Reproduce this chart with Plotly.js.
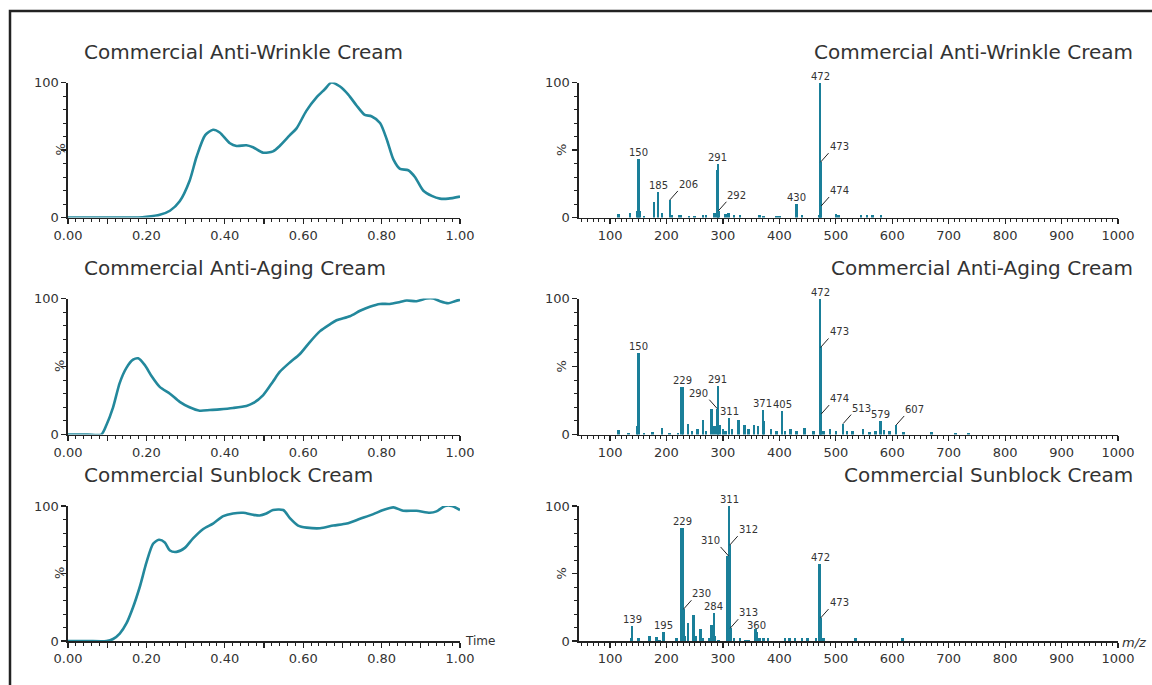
<!DOCTYPE html>
<html>
<head>
<meta charset="utf-8">
<script src="https://cdn.plot.ly/plotly-3.0.1.min.js"></script>
<style>html,body{margin:0;padding:0;background:#fff;}#chart{width:1152px;height:685px;}</style>
</head>
<body>
<div id="chart"></div>
<script>
// ---------- Titles ----------
const panelTitles = ['Commercial Anti-Wrinkle Cream', 'Commercial Anti-Aging Cream', 'Commercial Sunblock Cream'];

// ---------- Chromatograms (time, %) ----------
const wrinkleTime = [0.00,0.10,0.18,0.20,0.234,0.26,0.285,0.31,0.328,0.35,0.37,0.387,0.413,0.43,0.455,0.472,0.498,0.523,0.54,0.566,0.583,0.608,0.634,0.655,0.672,0.694,0.715,0.736,0.757,0.774,0.796,0.813,0.83,0.847,0.868,0.885,0.906,0.928,0.949,0.97,1.00];
const wrinkleInt  = [0,0,0,0.5,2,5,12,27,45,61,65,63,55,53,53.5,52,48,49,53,61,66,79,89,95,100,97,91,83,76,75,70,58,43,36,35,30,20,16,14,14,15.5];

const agingTime = [0.00,0.05,0.085,0.098,0.115,0.132,0.149,0.166,0.179,0.196,0.213,0.234,0.26,0.285,0.31,0.336,0.362,0.387,0.421,0.455,0.472,0.498,0.523,0.54,0.566,0.591,0.617,0.643,0.668,0.685,0.719,0.745,0.77,0.796,0.821,0.847,0.864,0.889,0.915,0.932,0.949,0.97,0.987,1.00];
const agingInt  = [0,0,0,7,20,38,49,55,56,51,43,35,30,24,20,17.5,18,18.5,19.5,21,23,29,39,46,53,59,68,76,81,84,87,91,94,96,96,97.5,98.5,98,100,100,98,96.5,98,99];

const sunTime = [0.00,0.05,0.098,0.115,0.132,0.149,0.166,0.183,0.20,0.217,0.232,0.247,0.26,0.277,0.298,0.319,0.345,0.37,0.396,0.421,0.447,0.472,0.489,0.506,0.523,0.549,0.566,0.587,0.609,0.643,0.677,0.711,0.745,0.779,0.804,0.83,0.855,0.889,0.923,0.94,0.962,0.979,1.00];
const sunInt  = [0,0,0,1.5,5.5,13,25,40,58,72,75,73,67,66,69,76,83,87,92.5,94.5,95,93.5,93,94.5,97,97,91,85.5,84,83.5,85.5,87,90.5,94,97,99,96.5,96.5,95,96,100,100,97];

// ---------- Mass spectra (m/z, %) ----------
const wrinkleMz  = [115,135,148,150,152,160,178,185,192,206,210,222,226,240,250,265,270,285,290,291,292,305,310,320,330,365,372,395,400,430,440,470,472,473,474,500,505,545,555,565,580];
const wrinkleAbs = [2.5,3.5,5,43,5,1,11.5,19,3.5,13,2,2,2,1,1,2,2,3.5,35,40,5,2.5,3.5,2,2,2,1,1,1,10,1.5,2,100,41,8.5,2.5,1.5,2,2,1.5,1.5];
const wrinkleLabels = [150,185,206,291,292,430,472,473,474];

const agingMz  = [115,133,148,150,160,175,192,205,220,227,229,238,245,255,265,270,280,285,290,291,295,300,305,311,316,328,338,345,355,362,371,373,385,395,405,410,420,430,445,460,472,473,474,478,490,500,513,520,530,548,560,570,579,585,595,607,620,670,712,735];
const agingAbs = [3,1,6,60,1,2,5,1,1,35,35,8,2.5,4,11,2.5,19,6,19,36,7,4,2.5,12,4,10.5,7,4,7,6,18,10,4,2.5,17,2.5,4,2.5,5,2.5,100,64,15,2.5,4,2.5,8,2.5,2.5,4,1.5,2.5,10,3,2.5,7,2,1.5,1,1];
const agingLabels = [150,229,290,291,311,371,405,472,473,474,513,579,607];

const sunMz  = [137,139,150,170,182,188,195,218,226,229,230,232,238,248,252,260,265,275,280,284,286,292,308,310,311,312,313,320,330,340,345,358,360,365,372,380,410,418,428,440,450,465,470,472,473,478,535,618];
const sunAbs = [2.5,11,2,3.5,3,1,7,2,83.5,83.5,23.5,3.5,13,19.5,3.5,9,2.5,2,12,20.5,3.5,1,63,63,100,71,9.5,2,2,1,1,9,7,2,2,2,2,2,2,2.5,2,2,57,57,17,2,2,2];
const sunLabels = [139,195,229,230,284,310,311,312,313,360,472,473];

// ---------- styling ----------
const FONT = 'DejaVu Sans, Verdana, sans-serif';
const LINE_COLOR = '#23889c';
const BAR_COLOR = '#1a7f99';
const TXT = '#333333';
const W = 1152, H = 685;
// leader-line directions for labelled peaks (style only)
const leaders = [
  {206:'r',292:'r',473:'r',474:'r'},
  {290:'l',473:'r',474:'r',513:'r',607:'r'},
  {230:'r',310:'l',312:'r',313:'r',473:'r'}
];

const px = v => v / W;
const py = v => 1 - v / H;
const leftDom = [px(68), px(460)];
const rightDom = [px(579), px(1118)];
const rowDoms = [[py(217.5), py(82.5)], [py(434.5), py(298.5)], [py(641), py(506)]];

const leftTickVals = [0,0.1,0.2,0.3,0.4,0.5,0.6,0.7,0.8,0.9,1.0];
const leftTickText = ['0.00','','0.20','','0.40','','0.60','','0.80','','1.00'];
const rightTickVals = [100,200,300,400,500,600,700,800,900,1000];

function xAxisLeft(dom, anchor) {
  return {domain: dom, anchor: anchor, range: [0, 1], tickmode: 'array', tickvals: leftTickVals, ticktext: leftTickText,
    ticks: 'outside', ticklen: 5, tickwidth: 1.2, tickcolor: '#222', showline: true, linecolor: '#222', linewidth: 1.6,
    showgrid: false, zeroline: false, tickfont: {family: FONT, size: 13, color: TXT},
    minor: {tickmode: 'linear', tick0: 0, dtick: 0.02, ticks: 'outside', ticklen: 3, tickwidth: 1, tickcolor: '#222', showgrid: false},
    fixedrange: true};
}
function xAxisRight(dom, anchor) {
  return {domain: dom, anchor: anchor, range: [45, 1000], tickmode: 'array', tickvals: rightTickVals,
    ticks: 'outside', ticklen: 5, tickwidth: 1.2, tickcolor: '#222', showline: true, linecolor: '#222', linewidth: 1.6,
    showgrid: false, zeroline: false, tickfont: {family: FONT, size: 13, color: TXT},
    minor: {tickmode: 'linear', tick0: 0, dtick: 10, ticks: 'outside', ticklen: 3, tickwidth: 1, tickcolor: '#222', showgrid: false},
    fixedrange: true};
}
function yAxis(dom, anchor) {
  return {domain: dom, anchor: anchor, range: [0, 100], tickmode: 'array', tickvals: [0, 50, 100], ticktext: ['0', '', '100'],
    ticks: 'outside', ticklen: 5, tickwidth: 1.2, tickcolor: '#222', showline: true, linecolor: '#222', linewidth: 1.6,
    showgrid: false, zeroline: false, tickfont: {family: FONT, size: 13, color: TXT},
    minor: {tickmode: 'linear', tick0: 0, dtick: 10, ticks: 'outside', ticklen: 3, tickwidth: 1, tickcolor: '#222', showgrid: false},
    fixedrange: true};
}

const chroms = [[wrinkleTime, wrinkleInt], [agingTime, agingInt], [sunTime, sunInt]];
const spectra = [[wrinkleMz, wrinkleAbs, wrinkleLabels], [agingMz, agingAbs, agingLabels], [sunMz, sunAbs, sunLabels]];

const traces = [];
const layout = {
  width: W, height: H, margin: {l: 0, r: 0, t: 0, b: 0},
  paper_bgcolor: '#ffffff', plot_bgcolor: 'rgba(0,0,0,0)',
  showlegend: false, bargap: 0, font: {family: FONT, color: TXT},
  annotations: [], shapes: []
};

for (let r = 0; r < 3; r++) {
  const li = 2 * r + 1, ri = 2 * r + 2;
  layout['xaxis' + li] = xAxisLeft(leftDom, 'y' + li);
  layout['yaxis' + li] = yAxis(rowDoms[r], 'x' + li);
  layout['xaxis' + ri] = xAxisRight(rightDom, 'y' + ri);
  layout['yaxis' + ri] = yAxis(rowDoms[r], 'x' + ri);

  traces.push({type: 'scatter', mode: 'lines', x: chroms[r][0], y: chroms[r][1], xaxis: 'x' + li, yaxis: 'y' + li,
    line: {color: LINE_COLOR, width: 2.6, shape: 'spline', smoothing: 0.7}, cliponaxis: false, hoverinfo: 'skip'});
  traces.push({type: 'bar', x: spectra[r][0], y: spectra[r][1], xaxis: 'x' + ri, yaxis: 'y' + ri,
    width: 4.5, marker: {color: BAR_COLOR, line: {width: 0}}, cliponaxis: false, hoverinfo: 'skip'});

  // panel titles
  const titleY = rowDoms[r][1] + 31 / H;
  layout.annotations.push({xref: 'paper', yref: 'paper', x: px(82), y: titleY, xanchor: 'left', yanchor: 'middle',
    text: panelTitles[r], showarrow: false, font: {family: FONT, size: 20, color: TXT}});
  layout.annotations.push({xref: 'paper', yref: 'paper', x: px(1135), y: titleY, xanchor: 'right', yanchor: 'middle',
    text: panelTitles[r], showarrow: false, font: {family: FONT, size: 20, color: TXT}});
  // % labels
  layout.annotations.push({xref: 'paper', yref: 'y' + li, x: px(50), y: 50, text: '%', textangle: -90, showarrow: false,
    font: {family: FONT, size: 13, color: TXT}});
  layout.annotations.push({xref: 'paper', yref: 'y' + ri, x: px(561), y: 50, text: '%', textangle: -90, showarrow: false,
    font: {family: FONT, size: 13, color: TXT}});

  // peak labels
  const [mz, ab, labs] = spectra[r];
  labs.forEach(m => {
    const v = ab[mz.indexOf(m)];
    const dir = leaders[r][m];
    if (dir) {
      layout.annotations.push({xref: 'x' + ri, yref: 'y' + ri, x: m, y: v, text: String(m), showarrow: true,
        arrowhead: 0, arrowwidth: 1, arrowcolor: '#222', standoff: 0, startstandoff: 0,
        ax: dir === 'r' ? 8 : -8, ay: -9, xanchor: dir === 'r' ? 'left' : 'right', yanchor: 'bottom',
        borderpad: 0, font: {family: FONT, size: 10, color: TXT}});
    } else {
      layout.annotations.push({xref: 'x' + ri, yref: 'y' + ri, x: m, y: v, text: String(m), showarrow: false,
        xanchor: 'center', yanchor: 'bottom', borderpad: 0, font: {family: FONT, size: 10, color: TXT}});
    }
  });
}

// axis unit labels
layout.annotations.push({xref: 'paper', yref: 'paper', x: px(463), y: py(641), xanchor: 'left', yanchor: 'middle',
  text: 'Time', showarrow: false, font: {family: FONT, size: 12, color: TXT}});
layout.annotations.push({xref: 'paper', yref: 'paper', x: px(1120), y: py(642), xanchor: 'left', yanchor: 'middle',
  text: '<i>m/z</i>', showarrow: false, font: {family: FONT, size: 13, color: TXT}});

// outer frame
layout.shapes.push({type: 'rect', xref: 'paper', yref: 'paper', x0: px(10), y0: -0.05, x1: 1.05, y1: py(11),
  line: {color: '#222', width: 2.5}, fillcolor: 'rgba(0,0,0,0)'});

Plotly.newPlot('chart', traces, layout, {staticPlot: true, displayModeBar: false});
</script>
</body>
</html>
